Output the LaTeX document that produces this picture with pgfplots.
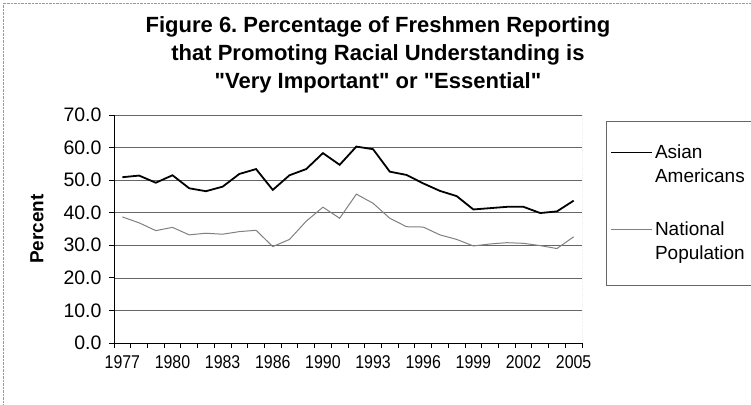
\documentclass[border=0pt]{standalone}
\usepackage{fontspec}
\setmainfont{Liberation Sans}[Ligatures=TeXOff]
\usepackage{graphicx}
\usepackage{pgfplots}
\pgfplotsset{compat=1.18}
\usepackage{pgfplotstable}
\frenchspacing

% index 0 = 1977 ... index 27 = 2005 (one year missing between 1986 and 1990)
\pgfplotstableread{
idx asian natl
0  50.9 38.7
1  51.4 36.9
2  49.2 34.5
3  51.5 35.5
4  47.5 33.2
5  46.6 33.7
6  48.0 33.4
7  51.9 34.2
8  53.4 34.6
9  47.0 29.6
10 51.5 31.8
11 53.4 37.4
12 58.3 41.7
13 54.7 38.3
14 60.3 45.7
15 59.5 42.9
16 52.6 38.3
17 51.6 35.7
18 49.0 35.6
19 46.7 33.2
20 45.1 31.8
21 41.0 29.8
22 41.4 30.4
23 41.8 30.8
24 41.8 30.6
25 39.9 29.9
26 40.4 29.0
27 43.7 32.6
}\freshmen

\newcommand\xl[1]{\scalebox{0.86}[1]{#1}}

\begin{document}
\begin{tikzpicture}
\path[use as bounding box] (0,0) rectangle (751pt,404pt);
\draw[black!40, densely dotted] (3pt,0) -- (3pt,401pt) -- (751pt,401pt);
\begin{axis}[
    at={(114pt,61pt)}, anchor=south west,
    scale only axis,
    width=468pt, height=228pt,
    xmin=-0.5, xmax=27.5,
    ymin=0, ymax=70,
    axis x line*=bottom,
    axis y line*=left,
    axis line style={black, line width=1pt},
    tick align=outside,
    major tick length=5pt,
    tick style={black, line width=0.8pt},
    xticklabel style={font=\fontsize{18.5}{18.5}\selectfont, yshift=-9pt},
    yticklabel style={font=\fontsize{19.5}{19.5}\selectfont, xshift=-4pt},
    xtick={-0.5,0.5,...,27.5},
    xticklabels={},
    extra x ticks={0,3,...,27},
    extra x tick labels={\xl{1977},\xl{1980},\xl{1983},\xl{1986},\xl{1990},\xl{1993},\xl{1996},\xl{1999},\xl{2002},\xl{2005}},
    extra x tick style={major tick length=0pt},
    ytick={0,10,...,70},
    yticklabels={0.0,10.0,20.0,30.0,40.0,50.0,60.0,70.0},
    ymajorgrids=true,
    grid style={black!60, line width=0.7pt},
    ylabel={Percent},
    every axis y label/.style={at={(axis description cs:-0.1645,0.5)}, rotate=90, anchor=center, font=\bfseries\fontsize{19}{19}\selectfont},
    title={Figure 6. Percentage of Freshmen Reporting\\that Promoting Racial Understanding is\\"Very Important" or "Essential"},
    title style={at={(axis description cs:0.564,1)}, align=center, font=\bfseries\fontsize{22}{28}\selectfont, anchor=south, yshift=12pt},
    legend style={at={(1.0513,0.975)}, anchor=north west, draw=black!60,
        font=\fontsize{19}{24}\selectfont, cells={align=left}, row sep=34pt,
        inner xsep=4pt, inner ysep=22pt},
    legend cell align=left,
    legend image code/.code={
        \draw[#1] (0pt,12pt) -- (41pt,12pt);
        \path[draw=none, fill=none] (0pt,-12pt) rectangle (41pt,12pt);},
]
\addplot[black, line width=1.8pt] table[x=idx, y=asian] {\freshmen};
\addlegendentry{Asian\\Americans}
\addplot[black!50, line width=1pt] table[x=idx, y=natl] {\freshmen};
\addlegendentry{National\\Population}
\draw[black!45, densely dotted, line width=0.8pt] (rel axis cs:1,0) -- (rel axis cs:1,1);
\end{axis}
\end{tikzpicture}
\end{document}
